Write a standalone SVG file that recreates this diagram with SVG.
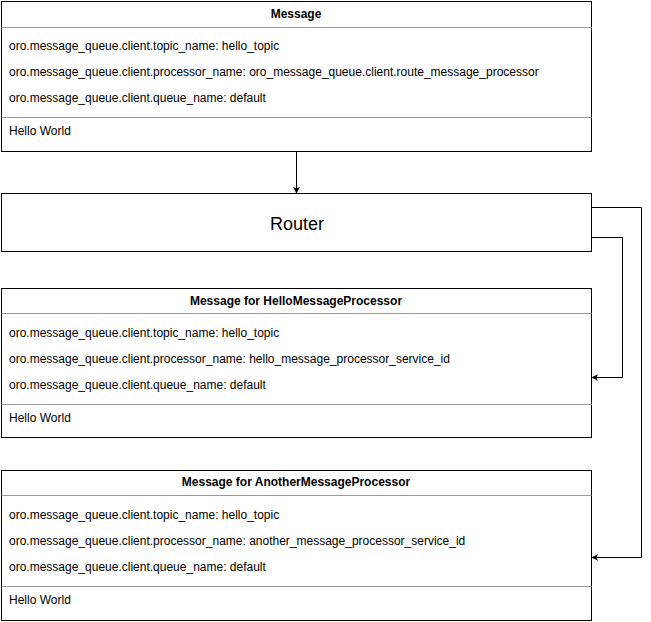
<svg xmlns="http://www.w3.org/2000/svg" width="651" height="622" viewBox="0 0 651 622">
<style>
.box{fill:#fff;stroke:#000;stroke-width:1}
.sep{stroke:#999;stroke-width:1}
.t{font-family:"Liberation Sans",Arial,sans-serif;font-size:12px;fill:#000}
.h{font-family:"Liberation Sans",Arial,sans-serif;font-size:12px;font-weight:bold;fill:#000;text-anchor:middle}
.r{font-family:"Liberation Sans",Arial,sans-serif;font-size:18px;fill:#000;text-anchor:middle}
.c{fill:none;stroke:#000;stroke-width:1}
</style>
<defs>
<marker id="arr" viewBox="0 0 10 10" refX="9" refY="5" markerWidth="7" markerHeight="7" orient="auto" markerUnits="userSpaceOnUse">
<path d="M0,0 L10,5 L0,10 L3,5 Z" fill="#000"/>
</marker>
</defs>
<rect width="651" height="622" fill="#fff"/>
<g id="message">
<rect class="box" x="1.5" y="1.5" width="590" height="150"/>
<line class="sep" x1="1.5" y1="27.5" x2="591.5" y2="27.5"/>
<line class="sep" x1="1.5" y1="117.5" x2="591.5" y2="117.5"/>
<text class="h" x="296" y="18">Message</text>
<text class="t" x="9" y="50">oro.message_queue.client.topic_name: hello_topic</text>
<text class="t" x="9" y="76">oro.message_queue.client.processor_name: oro_message_queue.client.route_message_processor</text>
<text class="t" x="9" y="102">oro.message_queue.client.queue_name: default</text>
<text class="t" x="9" y="135">Hello World</text>
</g>
<g id="router">
<rect class="box" x="1.5" y="193.5" width="590" height="58"/>
<text class="r" x="297" y="230">Router</text>
</g>
<g id="hello">
<rect class="box" x="1.5" y="288.5" width="590" height="149"/>
<line class="sep" x1="1.5" y1="313.5" x2="591.5" y2="313.5"/>
<line class="sep" x1="1.5" y1="404.5" x2="591.5" y2="404.5"/>
<text class="h" x="296" y="305">Message for HelloMessageProcessor</text>
<text class="t" x="9" y="337">oro.message_queue.client.topic_name: hello_topic</text>
<text class="t" x="9" y="363">oro.message_queue.client.processor_name: hello_message_processor_service_id</text>
<text class="t" x="9" y="389">oro.message_queue.client.queue_name: default</text>
<text class="t" x="9" y="422">Hello World</text>
</g>
<g id="another">
<rect class="box" x="1.5" y="470.5" width="590" height="150"/>
<line class="sep" x1="1.5" y1="495.5" x2="591.5" y2="495.5"/>
<line class="sep" x1="1.5" y1="586.5" x2="591.5" y2="586.5"/>
<text class="h" x="296" y="486">Message for AnotherMessageProcessor</text>
<text class="t" x="9" y="519">oro.message_queue.client.topic_name: hello_topic</text>
<text class="t" x="9" y="545">oro.message_queue.client.processor_name: another_message_processor_service_id</text>
<text class="t" x="9" y="571">oro.message_queue.client.queue_name: default</text>
<text class="t" x="9" y="604">Hello World</text>
</g>
<g id="connectors">
<path class="c" d="M296.5,152 L296.5,193" marker-end="url(#arr)"/>
<path class="c" d="M592,237.5 L622.5,237.5 L622.5,377.5 L592,377.5" marker-end="url(#arr)"/>
<path class="c" d="M592,207.5 L641.5,207.5 L641.5,557.5 L592,557.5" marker-end="url(#arr)"/>
</g>
</svg>
